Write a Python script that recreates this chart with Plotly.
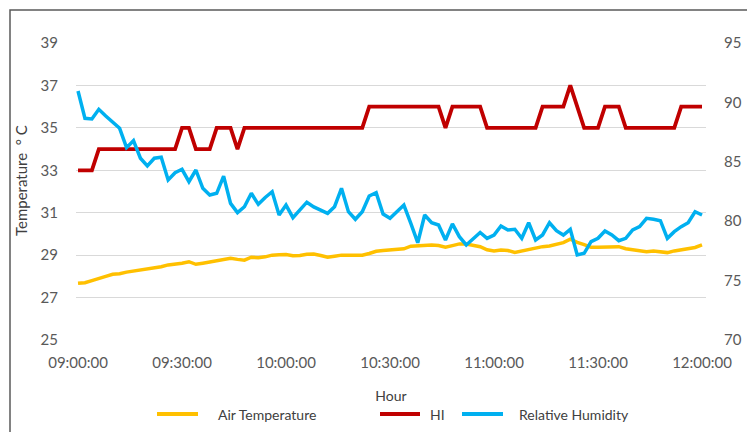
import pandas as pd
import plotly.graph_objects as go

# ---- data ----
times = pd.date_range("2024-01-01 09:00:00", "2024-01-01 12:00:00", freq="2min")

air_temperature = [
    27.67, 27.70, 27.80, 27.92, 28.00, 28.10, 28.12, 28.20, 28.25, 28.30,
    28.33, 28.38, 28.45, 28.54, 28.57, 28.62, 28.69, 28.57, 28.62, 28.68,
    28.72, 28.82, 28.85, 28.80, 28.76, 28.90, 28.88, 28.92, 29.00, 29.02,
    29.03, 28.97, 28.98, 29.04, 29.05, 28.98, 28.90, 28.95, 29.00, 29.00,
    28.98, 29.00, 29.08, 29.18, 29.22, 29.24, 29.24, 29.30, 29.42, 29.45,
    29.48, 29.48, 29.45, 29.37, 29.45, 29.53, 29.52, 29.48, 29.40, 29.25,
    29.20, 29.24, 29.22, 29.13, 29.20, 29.24, 29.35, 29.40, 29.43, 29.50,
    29.59, 29.75, 29.60, 29.50, 29.37, 29.37, 29.37, 29.38, 29.40, 29.30,
    29.24, 29.20, 29.16, 29.20, 29.18, 29.12, 29.20, 29.24, 29.30, 29.36,
    29.48,
]

heat_index = [
    33, 33, 33, 34, 34, 34, 34, 34, 34, 34,
    34, 34, 34, 34, 34, 35, 35, 34, 34, 34,
    35, 35, 35, 34, 35, 35, 35, 35, 35, 35,
    35, 35, 35, 35, 35, 35, 35, 35, 35, 35,
    35, 35, 36, 36, 36, 36, 36, 36, 36, 36,
    36, 36, 36, 35, 36, 36, 36, 36, 36, 35,
    35, 35, 35, 35, 35, 35, 35, 36, 36, 36,
    36, 37, 36, 35, 35, 35, 36, 36, 36, 35,
    35, 35, 35, 35, 35, 35, 35, 36, 36, 36,
    36,
]

relative_humidity = [
    90.96, 88.66, 88.60, 89.42, 88.86, 88.38, 87.82, 86.19, 86.78, 85.30,
    84.65, 85.30, 85.38, 83.47, 84.08, 84.37, 83.33, 84.31, 82.77, 82.20,
    82.35, 83.80, 81.50, 80.72, 81.22, 82.35, 81.42, 82.00, 82.48, 80.52,
    81.36, 80.30, 81.00, 81.60, 81.20, 80.90, 80.66, 81.22, 82.77, 80.80,
    80.16, 80.80, 82.12, 82.40, 80.60, 80.24, 80.78, 81.36, 79.82, 78.19,
    80.52, 79.87, 79.68, 78.42, 79.77, 78.70, 78.00, 78.56, 79.05, 78.56,
    78.84, 79.60, 79.26, 79.32, 78.56, 79.87, 78.42, 78.84, 79.87, 79.20,
    78.84, 79.32, 77.16, 77.30, 78.28, 78.56, 79.18, 78.84, 78.36, 78.56,
    79.26, 79.54, 80.24, 80.16, 80.04, 78.56, 79.12, 79.54, 79.87, 80.80,
    80.52,
]

series_names = ["Air Temperature", "HI", "Relative Humidity"]
series_colors = ["#FFC000", "#C00000", "#00B0F0"]
left_ticks = [25, 27, 29, 31, 33, 35, 37, 39]
right_ticks = [70, 75, 80, 85, 90, 95]

FONT = "Lato"
TICK_COLOR = "#595959"
TEXT_COLOR = "#404040"

fig = go.Figure()
fig.add_trace(go.Scatter(x=times, y=air_temperature, name=series_names[0], mode="lines",
                         line=dict(color=series_colors[0], width=3.5), showlegend=False))
fig.add_trace(go.Scatter(x=times, y=heat_index, name=series_names[1], mode="lines",
                         line=dict(color=series_colors[1], width=3.8), showlegend=False))
fig.add_trace(go.Scatter(x=times, y=relative_humidity, name=series_names[2], mode="lines",
                         line=dict(color=series_colors[2], width=3.5), yaxis="y2", showlegend=False))

# The page body has an 8px default margin; page pixel = figure pixel + OFF
OFF = 8
FIG_W, FIG_H = 755 - OFF, 432 - OFF
# plot-area geometry in page pixels (used only for layout placement)
L, R, T, B = 76, 706, 43, 340
W, H = R - L, B - T
def px(x):
    return (x - L) / W
def py(y):
    return (B - y) / H

fig.update_layout(
    width=FIG_W, height=FIG_H,
    margin=dict(l=L - OFF, r=FIG_W - (R - OFF), t=T - OFF, b=FIG_H - (B - OFF)),
    paper_bgcolor="white", plot_bgcolor="white",
    font=dict(family=FONT, size=15, color=TICK_COLOR),
    xaxis=dict(
        type="date",
        range=["2024-01-01 08:59:25", "2024-01-01 12:01:09"],
        tick0="2024-01-01 09:00:00", dtick=30 * 60 * 1000,
        tickformat="%H:%M:%S",
        showgrid=False, zeroline=False, showline=False,
        ticks="outside", ticklen=9, tickcolor="rgba(0,0,0,0)",
        tickfont=dict(family=FONT, size=15, color=TICK_COLOR),
        title=dict(text="Hour", font=dict(family=FONT, size=14, color=TEXT_COLOR), standoff=21),
        automargin=False,
    ),
    yaxis=dict(
        range=[25, 39], tickvals=left_ticks,
        showgrid=True, gridcolor="#D9D9D9", gridwidth=1,
        zeroline=False, showline=False,
        ticks="outside", ticklen=14, tickcolor="rgba(0,0,0,0)",
        tickfont=dict(family=FONT, size=15, color=TICK_COLOR),
        automargin=False,
    ),
    yaxis2=dict(
        range=[70, 95], tickvals=right_ticks, overlaying="y", side="right",
        showgrid=False, zeroline=False, showline=False,
        ticks="outside", ticklen=14, tickcolor="rgba(0,0,0,0)",
        tickfont=dict(family=FONT, size=15, color=TICK_COLOR),
        automargin=False,
    ),
)

annotations = [
    dict(text="Temperature\u00a0\u00a0°\u00a0C", xref="paper", yref="paper",
         x=px(21), y=py(181), textangle=-90, showarrow=False,
         font=dict(family=FONT, size=15, color=TEXT_COLOR), xanchor="center", yanchor="middle"),
    dict(text="Relative Humidity\u00a0\u00a0%", xref="paper", yref="paper",
         x=px(753), y=py(190), textangle=-90, showarrow=False,
         font=dict(family=FONT, size=15, color=TEXT_COLOR), xanchor="center", yanchor="middle"),
]

shapes = [
    dict(type="rect", xref="paper", yref="paper",
         x0=px(10), x1=px(770), y0=py(10), y1=py(450),
         line=dict(color="#595959", width=1.5), fillcolor="rgba(0,0,0,0)", layer="below"),
]

legend_items = [
    (157, 198, 216),
    (380, 420, 428),
    (462, 503, 517),
]
legend_y = 414
for (lx0, lx1, tx), name, color in zip(legend_items, series_names, series_colors):
    shapes.append(dict(type="line", xref="paper", yref="paper",
                       x0=px(lx0), x1=px(lx1), y0=py(legend_y), y1=py(legend_y),
                       line=dict(color=color, width=4)))
    annotations.append(dict(text=name, xref="paper", yref="paper", x=px(tx), y=py(legend_y),
                            xanchor="left", yanchor="middle", showarrow=False,
                            font=dict(family=FONT, size=14, color=TEXT_COLOR)))

fig.update_layout(annotations=annotations, shapes=shapes)

fig.write_html("out.html")
